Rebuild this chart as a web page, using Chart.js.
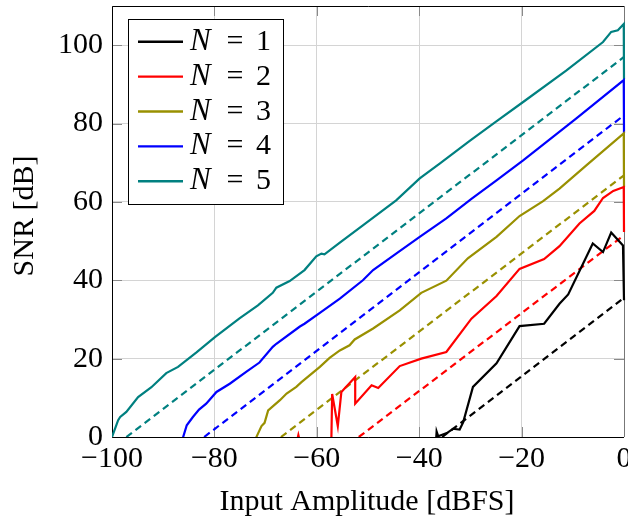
<!DOCTYPE html>
<html>
<head>
<meta charset="utf-8">
<script src="https://cdn.jsdelivr.net/npm/chart.js"></script>
<style>
  html, body { margin: 0; padding: 0; background: #fff; overflow: hidden; }
  #wrap { width: 660px; height: 520px; }
</style>
</head>
<body>
<div id="wrap"><canvas id="snrChart" width="660" height="520"></canvas></div>
<script>
const xTicks = [-100, -80, -60, -40, -20, 0];
const yTicks = [0, 20, 40, 60, 80, 100];
const bitCounts = [1, 2, 3, 4, 5];
const lineColors = ["#000000", "#ff0000", "#999000", "#0000ff", "#008080"];

// measured SNR curves, input amplitude [dBFS] -> SNR [dB]
const ampN1 = [-36.8, -36.6, -36.3, -34.6, -33.4, -32.1, -31.4, -29.5, -24.9, -20.4, -15.6, -12.6, -10.9, -6.1, -4.1, -2.5, -0.2, 0];
const snrN1 = [-3, 1.4, 0.2, 1.0, 2.1, 1.9, 3.8, 12.8, 18.8, 28.3, 28.9, 34.0, 36.4, 49.4, 47.2, 52.2, 48.9, 34.9];

const ampN2 = [-64.4, -63.6, -62.8, -57.2, -57.0, -55.9, -55.2, -52.5, -52.5, -49.3, -48.0, -43.8, -39.6, -34.7, -29.8, -24.9, -20.4, -15.6, -12.6, -8.7, -5.8, -4.1, -2.1, -0.05, 0];
const snrN2 = [-4, 0.5, -4, -4, 11.0, 2.8, 11.5, 15.3, 8.5, 13.2, 12.5, 18.1, 20.0, 21.7, 30.2, 36.0, 42.9, 45.4, 48.7, 54.5, 57.7, 61.0, 62.8, 63.8, 52.3];

const ampN3 = [-72.3, -71.8, -70.8, -70.2, -69.5, -67.2, -65.9, -64.0, -63.0, -59.4, -57.5, -55.5, -53.6, -52.6, -49.0, -43.8, -39.6, -34.7, -30.5, -24.9, -20.4, -15.8, -12.6, -7.3, -0.05, 0];
const snrN3 = [-3, 0, 2.8, 3.6, 6.8, 9.4, 11.1, 12.8, 14.0, 17.9, 20.2, 22.1, 23.4, 24.9, 27.7, 32.3, 36.8, 39.9, 45.6, 51.1, 56.4, 60.2, 63.4, 69.4, 77.5, 63.8];

const ampN4 = [-86.4, -86.1, -85.4, -84.2, -83.0, -81.6, -79.6, -77.0, -73.8, -71.2, -68.6, -67.9, -63.3, -62.4, -59.4, -55.5, -51.0, -49.0, -44.5, -39.9, -34.7, -29.8, -24.9, -19.7, -9.3, -0.05, 0];
const snrN4 = [-3, 0, 3.0, 5.1, 7.0, 8.5, 11.5, 13.6, 16.6, 19.0, 23.0, 23.8, 28.2, 28.9, 31.7, 35.3, 40.0, 42.6, 46.8, 51.1, 55.8, 60.8, 65.5, 70.6, 81.3, 91.1, 77.5];

const ampN5 = [-100, -98.8, -98.4, -97.2, -94.9, -92.3, -89.4, -87.1, -83.5, -79.9, -75.1, -71.5, -68.6, -67.9, -65.3, -62.4, -60.1, -59.1, -58.5, -55.5, -51.0, -44.5, -39.9, -36.0, -30.2, -25.0, -19.7, -11.3, -4.1, -2.5, -1.2, -0.05, 0];
const snrN5 = [0, 4.3, 5.1, 6.4, 10.2, 12.7, 16.3, 17.9, 21.6, 25.5, 30.3, 33.6, 36.8, 38.1, 39.8, 42.6, 46.1, 46.8, 46.6, 49.6, 54.0, 60.4, 66.0, 69.8, 75.5, 80.5, 85.5, 93.5, 100.8, 103.4, 103.8, 105.4, 91.3];

// ideal (dashed) lines: amplitude where SNR reaches 0, and SNR at 0 dBFS
const idealZeroAmp = [-35.5, -51.8, -67.0, -82.0, -97.2];
const idealFullScaleSnr = [35.5, 51.5, 66.8, 82.1, 97.0];

const measuredAmp = [ampN1, ampN2, ampN3, ampN4, ampN5];
const measuredSnr = [snrN1, snrN2, snrN3, snrN4, snrN5];

const FONT = "'Liberation Serif', 'Times New Roman', serif";
const fmt = v => (v < 0 ? "\u2212" + Math.abs(v) : String(v));

const datasets = [];
bitCounts.forEach((n, i) => {
  datasets.push({
    label: "N = " + n,
    data: measuredAmp[i].map((a, k) => ({ x: a, y: measuredSnr[i][k] })),
    borderColor: lineColors[i],
    borderWidth: 2.2,
    pointRadius: 0,
    showLine: true,
    clip: { left: 0, top: 0, right: 4, bottom: 0 }
  });
});
bitCounts.forEach((n, i) => {
  datasets.push({
    label: "",
    data: [{ x: idealZeroAmp[i], y: 0 }, { x: 0, y: idealFullScaleSnr[i] }],
    borderColor: lineColors[i],
    borderWidth: 2.2,
    borderDash: [7, 4.5],
    pointRadius: 0,
    showLine: true,
    clip: { left: 0, top: 0, right: 4, bottom: 0 }
  });
});

const frameAndLegend = {
  id: "frameAndLegend",
  beforeDatasetsDraw(chart) {
    const { ctx, chartArea: a, scales } = chart;
    ctx.save();
    // inward tick marks
    ctx.strokeStyle = "#8a8a8a";
    ctx.lineWidth = 1;
    ctx.beginPath();
    xTicks.forEach(v => {
      const px = Math.round(scales.x.getPixelForValue(v)) + 0.5;
      ctx.moveTo(px, a.bottom); ctx.lineTo(px, a.bottom - 10);
      ctx.moveTo(px, a.top); ctx.lineTo(px, a.top + 10);
    });
    yTicks.forEach(v => {
      const py = Math.round(scales.y.getPixelForValue(v)) + 0.5;
      ctx.moveTo(a.left, py); ctx.lineTo(a.left + 10, py);
      ctx.moveTo(a.right, py); ctx.lineTo(a.right - 10, py);
    });
    ctx.stroke();
    // frame
    ctx.strokeStyle = "#000";
    ctx.beginPath();
    ctx.moveTo(a.right, a.top + 0.5); ctx.lineTo(a.left + 0.5, a.top + 0.5);
    ctx.lineTo(a.left + 0.5, a.bottom + 0.5); ctx.lineTo(a.right, a.bottom + 0.5);
    ctx.stroke();
    ctx.strokeStyle = "#777";
    ctx.beginPath();
    ctx.moveTo(a.right + 0.5, a.top); ctx.lineTo(a.right + 0.5, a.bottom);
    ctx.stroke();
    ctx.restore();
  },
  afterDraw(chart) {
    const { ctx } = chart;
    ctx.save();
    // axis titles
    ctx.fillStyle = "#000";
    ctx.font = "30px " + FONT;
    ctx.textAlign = "center";
    ctx.textBaseline = "alphabetic";
    ctx.fillText("Input Amplitude [dBFS]", 367, 510);
    ctx.translate(33, 216);
    ctx.rotate(-Math.PI / 2);
    ctx.fillText("SNR [dB]", 0, 0);
    ctx.restore();

    // legend box
    ctx.save();
    ctx.fillStyle = "#fff";
    ctx.fillRect(128, 19, 155, 185);
    ctx.strokeStyle = "#000";
    ctx.lineWidth = 1;
    ctx.strokeRect(128.5, 19.5, 155, 185);
    chart.data.datasets.forEach((ds, i) => {
      if (!ds.label) return;
      const rowY = 41.7 + i * 34.9;
      ctx.strokeStyle = ds.borderColor;
      ctx.lineWidth = 2.4;
      ctx.beginPath();
      ctx.moveTo(138, rowY); ctx.lineTo(183, rowY);
      ctx.stroke();
      ctx.fillStyle = "#000";
      ctx.textBaseline = "alphabetic";
      ctx.textAlign = "left";
      ctx.font = "italic 31px " + FONT;
      ctx.fillText("N", 190, rowY + 8);
      ctx.font = "30px " + FONT;
      ctx.textAlign = "center";
      ctx.fillText("=", 235, rowY + 8);
      ctx.textAlign = "left";
      ctx.fillText(String(bitCounts[i]), 256, rowY + 8);
    });
    ctx.restore();
  }
};

new Chart(document.getElementById("snrChart"), {
  type: "scatter",
  data: { datasets },
  options: {
    responsive: false,
    animation: false,
    layout: { padding: { left: 0, right: 36, top: 6, bottom: 0 } },
    plugins: { legend: { display: false }, tooltip: { enabled: false } },
    scales: {
      x: {
        type: "linear",
        min: -100,
        max: 0,
        afterBuildTicks: s => { s.ticks = xTicks.map(v => ({ value: v })); },
        afterFit: s => { s.height = 83; s.paddingLeft = 0; s.paddingRight = 0; },
        grid: { color: "#d4d4d4", drawTicks: false },
        border: { display: false },
        ticks: {
          font: { family: FONT, size: 30 },
          color: "#000",
          padding: 4,
          maxRotation: 0,
          autoSkip: false,
          callback: fmt
        }
      },
      y: {
        type: "linear",
        min: 0,
        max: 110,
        afterBuildTicks: s => { s.ticks = yTicks.map(v => ({ value: v })); },
        afterFit: s => { s.width = 112; s.paddingTop = 0; s.paddingBottom = 0; },
        grid: { color: "#d4d4d4", drawTicks: false },
        border: { display: false },
        ticks: {
          font: { family: FONT, size: 30 },
          color: "#000",
          padding: 9,
          autoSkip: false,
          callback: fmt
        }
      }
    }
  },
  plugins: [frameAndLegend]
});
</script>
</body>
</html>
